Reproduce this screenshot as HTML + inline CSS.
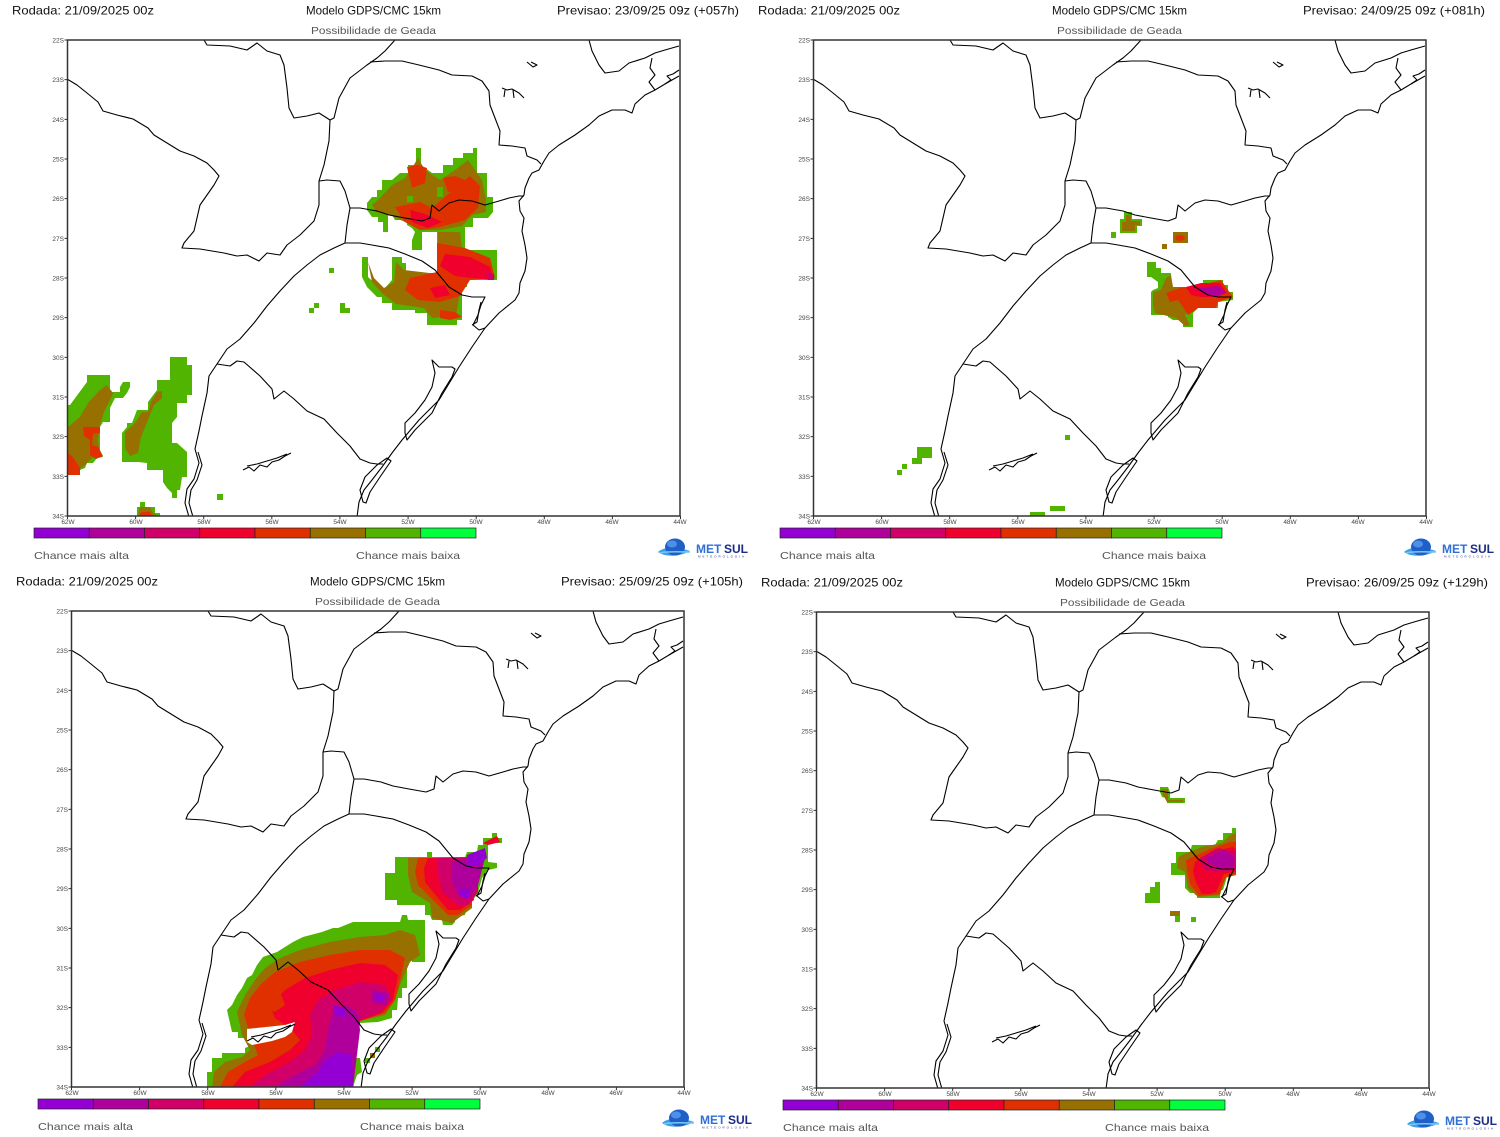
<!DOCTYPE html>
<html>
<head>
<meta charset="utf-8">
<style>
html,body{margin:0;padding:0;background:#fff;}
svg{display:block;}
.h{font-family:"Liberation Sans",sans-serif;font-size:12px;fill:#111;}
.s{font-family:"Liberation Sans",sans-serif;font-size:10.5px;fill:#555;}
.c{font-family:"Liberation Sans",sans-serif;font-size:10.5px;fill:#555;}
.t{font-family:"Liberation Sans",sans-serif;font-size:6.5px;fill:#444;}
.lg1{font-family:"Liberation Sans",sans-serif;font-size:12px;font-weight:bold;fill:#2f6fd6;}
.lg2{font-family:"Liberation Sans",sans-serif;font-size:12px;font-weight:bold;fill:#1b2c86;}
.lg3{font-family:"Liberation Sans",sans-serif;font-size:3px;fill:#1b2c86;}
</style>
</head>
<body>
<svg width="1500" height="1137" viewBox="0 0 1500 1137" xmlns="http://www.w3.org/2000/svg">
<defs>
<clipPath id="fr"><rect x="0" y="0" width="613" height="476"/></clipPath>
<g id="map" clip-path="url(#fr)" fill="none" stroke="#000" stroke-width="1.1" stroke-linejoin="round">
<path d="M0,39 L10,45 L20,53 L31,62 L36,71 L50,75 L66,79 L81,88 L87,95 L100,103 L113,111 L127,116 L140,123 L147,130 L152,136 L147,145 L140,155 L133,165 L130,178 L127,191 L117,203 L115,208 L133,209 L157,213 L170,216 L180,215 L192,221 L200,213 L213,215 L220,205 L233,195 L247,181 L252,165 L252,141 L257,125 L262,101 L263,80"/>
<path d="M263,80 L252,73 L240,76 L227,78 L222,68 L220,48 L217,25 L213,15 L200,11 L190,3 L180,10 L163,6 L140,5 L137,0"/>
<path d="M263,80 L267,78 L272,58 L283,38 L300,25 L310,18 L318,11 L328,0"/>
<path d="M303,22 L318,21 L335,21 L352,25 L372,30 L385,35 L405,36 L415,41 L422,51 L423,65 L428,78 L433,91 L432,105 L445,106 L458,108 L460,116 L470,120 L474,124"/>
<path d="M252,141 L260,140 L273,141 L278,151 L283,168 L293,168 L310,171 L322,175 L338,178 L355,181 L363,178 L365,165 L372,171 L382,163 L392,160 L405,161 L418,165 L432,161 L442,158 L452,156 L457,156"/>
<path d="M283,168 L280,185 L278,203"/>
<path d="M278,203 L293,203 L305,205 L322,208 L338,214 L355,221 L368,230 L382,247 L395,255 L405,257 L418,257 L414,265 L411,275 L406,285 L412,290 L418,288"/>
<path d="M278,203 L267,208 L253,215 L240,225 L227,236 L213,251 L200,266 L187,283 L173,299 L160,309 L150,324 L142,336 L140,353 L135,376 L132,391 L128,409 L132,423 L127,439 L120,449 L118,463 L122,477"/>
<path d="M131,412 L135,425 L130,440 L124,450 L122,463 L126,477"/>
<path d="M150,324 L163,326 L170,321 L177,322 L193,336 L205,349 L207,359 L217,351 L227,359 L240,371 L257,379 L270,393 L283,406 L293,419 L303,423 L310,424 L316,424"/>
<path d="M612,36 L598,44 L588,50 L578,55 L568,64 L565,73 L558,70 L545,70 L532,76 L522,85 L508,95 L492,105 L482,113 L477,121 L472,130 L465,133 L462,138 L458,148 L457,155 L452,161 L453,171 L457,178 L455,191 L458,205 L460,218 L458,231 L453,243 L452,253 L448,260 L432,273 L418,288 L405,307 L392,327 L372,360 L352,380 L335,400 L325,413 L315,427 L305,440 L297,450 L292,462 L290,477"/>
<path d="M522,0 L525,11 L532,25 L538,33 L552,31 L562,23 L578,18 L588,13 L598,10 L612,6"/>
<path d="M585,18 L583,28 L588,35 L582,42 L588,50 M598,44 L604,40 L600,36 L606,34 L612,30"/>
<path d="M338,393 L338,383 L348,373 L358,360 L365,347 L368,333 L365,320 L372,327 L385,327 L388,329 L385,337 L375,353 L365,373 L348,390 L340,400 Z"/>
<path d="M296,462 L293,450 L298,437 L310,425 L320,418 L324,421 L313,437 L303,452 L299,463 Z"/>
<path d="M176,430 L182,427 L187,431 L193,425 L200,427 L205,422 L212,420 L218,416 L224,413 M180,426 L190,424 L200,421 L210,418 L220,414"/>
<path d="M460,22 L466,27 L470,25 L464,22 M435,48 L440,50 L445,49 L452,53 L457,58 M438,50 L437,57 M446,50 L447,58"/>
<path d="M405,285 L410,282 L412,270 L414,262" />
</g>
<g id="tk" stroke="#333" stroke-width="1">
<path d="M0,0 h-3 M0,39.67 h-3 M0,79.33 h-3 M0,119 h-3 M0,158.67 h-3 M0,198.33 h-3 M0,238 h-3 M0,277.67 h-3 M0,317.33 h-3 M0,357 h-3 M0,396.67 h-3 M0,436.33 h-3 M0,476 h-3 M0,476 v3 M68.1,476 v3 M136.2,476 v3 M204.3,476 v3 M272.4,476 v3 M340.6,476 v3 M408.7,476 v3 M476.8,476 v3 M544.9,476 v3 M613,476 v3"/>
</g>
</defs>
<rect width="1500" height="1137" fill="#fff"/>

<!-- ================= PANEL 1 DATA ================= -->
<g>
<polygon fill="#50b400" points="416,148 421,148 421,165 432,173 443,173 443,165 453,165 453,158 463,158 463,153 473,153 473,148 477,148 477,173 487,173 487,197 493,197 493,212 488,218 473,218 473,227 465,227 465,250 497,250 497,280 467,280 467,287 462,287 462,320 457,320 457,325 427,325 427,313 415,313 415,310 392,310 392,303 382,303 382,297 377,297 367,287 362,277 362,257 368,257 368,277 380,288 385,288 392,280 392,257 402,257 402,263 406,263 406,273 440,273 440,257 437,255 437,232 422,232 422,250 412,250 412,240 415,232 412,228 407,225 407,220 395,220 392,215 388,215 388,232 383,232 383,222 378,222 378,217 372,217 367,210 367,203 372,197 377,197 377,190 382,190 382,180 392,180 400,173 408,173 408,165 416,165"/>
<polygon fill="#977000" points="380,198 392,185 405,178 412,168 418,158 425,170 440,180 455,170 468,160 475,170 482,180 486,200 486,212 472,215 462,226 440,230 420,230 405,222 390,215 376,212 372,205"/>
<polygon fill="#977000" points="438,232 460,232 462,252 490,258 494,276 465,278 460,292 456,316 432,318 424,308 396,304 383,294 372,282 368,262 374,278 384,288 394,282 396,262 404,270 438,274"/>
<rect x="407" y="196" width="6" height="6" fill="#50b400"/>
<rect x="437" y="187" width="6" height="10" fill="#50b400"/>
<polygon fill="#e03000" points="407,167 418,165 427,168 425,183 412,188"/>
<polygon fill="#e03000" points="395,207 420,202 432,208 446,196 458,186 470,176 480,186 478,208 465,220 440,227 420,230 405,222"/>
<polygon fill="#e03000" points="443,178 455,176 470,182 465,192 448,192"/>
<polygon fill="#e03000" points="437,243 465,248 490,258 495,278 470,280 460,296 440,302 418,300 405,290 410,278 437,272"/>
<polygon fill="#e03000" points="440,310 455,312 462,317 450,320 440,318"/>
<polygon fill="#f0002c" points="445,254 470,257 490,267 493,280 472,278 455,276 440,266"/>
<polygon fill="#f0002c" points="410,210 425,214 442,222 428,228 412,222"/>
<polygon fill="#f0002c" points="430,288 445,285 450,295 435,298"/>
<polygon fill="#d00068" points="486,272 494,274 494,280 488,280"/>
<!-- left blobs -->
<polygon fill="#50b400" points="68,405 70,405 87,382 87,375 110,375 110,392 120,392 120,387 123,382 130,382 130,387 127,393 123,398 115,398 110,408 110,422 103,422 100,427 100,450 103,457 97,458 93,463 87,463 85,468 80,470 80,475 68,475"/>
<polygon fill="#977000" points="68,427 80,417 88,403 100,390 107,385 113,393 110,400 104,412 100,425 98,440 100,455 92,458 85,465 78,470 68,470"/>
<polygon fill="#e03000" points="68,453 73,457 80,468 80,475 68,475"/>
<polygon fill="#e03000" points="83,427 100,427 100,433 93,434 92,445 98,447 103,456 96,459 90,455 90,440 84,436"/>
<polygon fill="#50b400" points="170,357 187,357 187,365 192,365 192,395 187,395 187,403 177,403 177,417 172,423 172,443 177,443 187,452 187,477 182,477 180,490 177,490 177,498 172,498 172,493 167,488 163,482 163,470 147,470 147,463 138,462 122,462 122,433 127,427 127,423 132,423 137,410 148,410 148,402 157,390 157,380 170,380"/>
<polygon fill="#977000" points="125,432 134,424 142,412 148,412 151,402 157,392 162,391 162,398 154,405 148,420 141,437 138,453 130,456 125,448"/>
<polygon fill="#50b400" points="140,502 145,502 145,507 155,507 155,513 160,513 160,516 137,516 137,507 140,507"/>
<polygon fill="#977000" points="140,507 150,507 153,513 158,516 138,516"/>
<polygon fill="#e03000" points="141,512 150,512 152,516 140,516"/>
<g fill="#50b400">
<rect x="217" y="494" width="6" height="6"/>
<rect x="329" y="268" width="5" height="5"/>
<rect x="314" y="303" width="5" height="5"/>
<rect x="309" y="308" width="5" height="5"/>
<rect x="340" y="303" width="5" height="10"/>
<rect x="345" y="308" width="5" height="5"/>
</g>
</g>

<!-- ================= PANEL 2 DATA ================= -->
<g>
<polygon fill="#50b400" points="1124,212 1132,212 1132,219 1142,219 1142,226 1137,226 1137,233 1120,233 1120,219 1124,219"/>
<polygon fill="#977000" points="1126,215 1131,215 1131,221 1140,221 1140,225 1135,225 1135,231 1122,231 1122,222 1126,222"/>
<rect x="1173" y="232" width="15" height="11" fill="#977000"/>
<ellipse cx="1180" cy="238" rx="5" ry="3" fill="#e03000"/>
<rect x="1162" y="244" width="5" height="5" fill="#977000"/>
<polygon fill="#50b400" points="1147,262 1156,262 1156,268 1161,268 1161,273 1171,273 1171,287 1203,287 1203,280 1223,280 1223,285 1228,285 1228,292 1233,292 1233,300 1218,302 1218,308 1198,308 1193,313 1193,327 1183,327 1183,320 1173,320 1168,317 1168,315 1151,315 1151,292 1153,290 1158,288 1158,282 1151,277 1147,277"/>
<polygon fill="#977000" points="1153,292 1161,290 1166,278 1171,275 1173,287 1185,287 1191,293 1195,303 1191,310 1185,315 1190,325 1185,326 1176,318 1155,313 1153,305"/>
<polygon fill="#e03000" points="1166,293 1180,288 1205,284 1221,280 1228,290 1233,297 1218,302 1216,308 1198,308 1188,315 1183,307 1178,300 1170,302"/>
<polygon fill="#f0002c" points="1186,287 1201,283 1220,283 1226,292 1218,297 1201,297 1191,295"/>
<polygon fill="#b0009c" points="1198,288 1218,286 1227,293 1215,296 1203,293"/>
<g fill="#50b400">
<rect x="917" y="447" width="15" height="11"/>
<rect x="912" y="458" width="10" height="6"/>
<rect x="902" y="464" width="5" height="5"/>
<rect x="897" y="470" width="5" height="5"/>
<rect x="1065" y="435" width="5" height="5"/>
<rect x="1030" y="512" width="15" height="4"/>
<rect x="1050" y="506" width="15" height="5"/>
<rect x="1111" y="232" width="5" height="6"/>
</g>
</g>

<!-- ================= PANEL 3 DATA ================= -->
<g>
<polygon fill="#50b400" points="395,857 427,857 427,852 432,852 432,857 465,857 467,852 477,852 478,845 483,845 483,838 492,838 492,833 497,833 497,838 502,838 502,843 488,843 488,862 497,863 497,868 488,870 482,878 478,893 473,900 467,905 465,915 455,917 455,922 452,925 443,925 442,920 432,920 430,915 425,915 425,905 397,905 397,900 385,900 385,873 395,873"/>
<polygon fill="#977000" points="408,858 467,857 472,870 472,908 452,923 432,918 430,903 412,892 408,875"/>
<polygon fill="#e03000" points="418,858 468,858 472,905 458,915 448,915 435,902 418,885 415,872"/>
<polygon fill="#f0002c" points="428,858 470,858 474,900 460,910 448,910 438,898 425,882 424,868"/>
<polygon fill="#d00068" points="438,858 478,857 478,892 468,905 458,905 442,892 438,875"/>
<polygon fill="#b0009c" points="452,862 478,855 485,858 478,885 468,900 458,895 452,882"/>
<polygon fill="#9400d4" points="467,855 485,848 487,858 478,865 468,865"/>
<polygon fill="#9400d4" points="458,890 468,888 470,897 462,898"/>
<polygon fill="#f0002c" points="483,843 497,836 500,842 488,845"/>
<polygon fill="#50b400" points="207,1087 207,1072 212,1072 212,1058 222,1058 222,1053 245,1053 245,1048 252,1045 248,1038 238,1038 238,1032 232,1032 227,1010 232,1005 237,995 242,988 247,978 252,975 257,965 263,957 277,952 285,947 293,942 303,937 322,932 333,928 338,928 353,922 400,922 402,915 407,915 408,920 425,920 425,962 412,962 412,957 402,957 402,968 407,968 407,988 402,988 402,998 398,998 397,1010 392,1010 392,1018 378,1022 360,1023 355,1023 355,1028 358,1032 355,1038 355,1058 360,1058 362,1072 357,1075 353,1087"/>
<polygon fill="#977000" points="212,1087 214,1072 225,1062 242,1057 250,1050 242,1035 237,1012 245,995 255,980 265,968 280,958 300,950 330,942 360,937 385,935 400,930 415,935 420,955 410,962 400,985 395,1000 385,1015 360,1021 355,1025 353,1087"/>
<polygon fill="#e03000" points="220,1087 228,1072 245,1062 258,1055 252,1040 244,1015 250,998 262,983 275,972 300,962 330,955 360,950 390,950 405,958 400,980 395,1000 385,1013 360,1021 353,1087"/>
<polygon fill="#f0002c" points="232,1087 245,1072 270,1062 290,1050 300,1040 290,1028 275,1018 270,1005 285,990 305,978 330,970 360,963 385,965 398,975 393,1000 382,1013 360,1021 353,1087"/>
<polygon fill="#e03000" points="265,995 280,992 285,1005 275,1012 266,1008"/>
<polygon fill="#d00068" points="250,1087 265,1075 290,1062 305,1050 312,1035 310,1015 318,1000 335,990 360,982 385,985 392,1000 380,1012 360,1020 353,1087"/>
<polygon fill="#b0009c" points="275,1087 295,1075 315,1065 325,1050 328,1030 333,1012 345,1005 358,1012 360,1030 353,1087"/>
<polygon fill="#b0009c" points="372,990 390,993 386,1005 372,1003"/>
<polygon fill="#9400d4" points="300,1087 310,1078 318,1072 325,1060 338,1052 352,1055 353,1087"/>
<polygon fill="#9400d4" points="333,1005 345,1008 345,1018 335,1015"/>
<polygon fill="#9400d4" points="376,993 385,996 382,1002 376,1000"/>
<polygon fill="#fff" points="247,1029 285,1025 295,1022 292,1032 285,1037 272,1041 252,1045 247,1042"/>
<rect x="365" y="1058" width="5" height="5" fill="#50b400"/>
<rect x="370" y="1053" width="5" height="5" fill="#977000"/>
<rect x="375" y="1047" width="5" height="5" fill="#50b400"/>
</g>

<!-- ================= PANEL 4 DATA ================= -->
<g>
<polygon fill="#50b400" points="1160,787 1168,787 1170,792 1170,798 1185,798 1185,803 1167,803 1167,798 1162,797 1160,792"/>
<polygon fill="#977000" points="1162,789 1168,789 1168,800 1183,800 1183,802 1167,802 1163,795"/>
<polygon fill="#50b400" points="1232,828 1236,828 1236,875 1227,877 1223,890 1220,890 1220,898 1197,898 1197,893 1190,893 1185,888 1185,875 1171,875 1171,863 1176,863 1176,852 1190,852 1192,845 1215,845 1218,840 1223,840 1223,833 1232,833"/>
<polygon fill="#977000" points="1182,855 1202,847 1222,843 1230,835 1236,833 1236,875 1225,878 1220,895 1198,897 1188,888 1185,872 1177,868 1178,858"/>
<polygon fill="#e03000" points="1186,860 1210,849 1230,842 1236,842 1236,874 1226,877 1219,894 1199,896 1190,884 1187,872"/>
<polygon fill="#f0002c" points="1195,862 1214,851 1233,847 1236,850 1236,872 1224,874 1216,892 1202,894 1196,882 1193,872"/>
<polygon fill="#d00068" points="1200,858 1218,848 1235,852 1235,870 1218,872 1205,870"/>
<polygon fill="#b0009c" points="1207,857 1225,850 1235,858 1233,867 1218,867 1208,863"/>
<ellipse cx="1208" cy="888" rx="7" ry="6" fill="#f0002c"/>
<polygon fill="#50b400" points="1155,882 1160,882 1160,903 1145,903 1145,893 1150,893 1150,887 1155,887"/>
<rect x="1170" y="911" width="10" height="5" fill="#977000"/>
<rect x="1175" y="916" width="5" height="6" fill="#50b400"/>
<rect x="1191" y="917" width="5" height="5" fill="#50b400"/>
</g>

<!-- ================= MAPS ================= -->
<use href="#map" transform="translate(67,40)"/>
<use href="#map" transform="translate(813,40)"/>
<use href="#map" transform="translate(71,611)"/>
<use href="#map" transform="translate(816,612)"/>
<use href="#tk" transform="translate(67.5,40)"/>
<use href="#tk" transform="translate(813.5,40)"/>
<use href="#tk" transform="translate(71.5,611)"/>
<use href="#tk" transform="translate(816.5,612)"/>

<!-- ================= PANEL 1 CHROME ================= -->
<g>
<rect x="67.5" y="40" width="612.5" height="476" fill="none" stroke="#333" stroke-width="1.5"/>
<text class="h" x="12" y="14.5" textLength="142" lengthAdjust="spacingAndGlyphs">Rodada: 21/09/2025 00z</text>
<text class="h" x="306" y="14.5" textLength="135" lengthAdjust="spacingAndGlyphs">Modelo GDPS/CMC 15km</text>
<text class="h" x="557" y="14.5" textLength="182" lengthAdjust="spacingAndGlyphs">Previsao: 23/09/25 09z (+057h)</text>
<text class="s" x="311" y="34" textLength="125" lengthAdjust="spacingAndGlyphs">Possibilidade de Geada</text>
<g class="t" text-anchor="end">
<text x="64" y="42.5">22S</text><text x="64" y="82.2">23S</text><text x="64" y="121.8">24S</text><text x="64" y="161.5">25S</text><text x="64" y="201.2">26S</text><text x="64" y="240.8">27S</text><text x="64" y="280.5">28S</text><text x="64" y="320.2">29S</text><text x="64" y="359.8">30S</text><text x="64" y="399.5">31S</text><text x="64" y="439.2">32S</text><text x="64" y="478.8">33S</text><text x="64" y="518.5">34S</text>
</g>
<g class="t" text-anchor="middle">
<text x="68" y="524">62W</text><text x="136" y="524">60W</text><text x="204" y="524">58W</text><text x="272" y="524">56W</text><text x="340" y="524">54W</text><text x="408" y="524">52W</text><text x="476" y="524">50W</text><text x="544" y="524">48W</text><text x="612" y="524">46W</text><text x="680" y="524">44W</text>
</g>
<g stroke="#222" stroke-width="0.7">
<rect x="34" y="528" width="55.25" height="10" fill="#9400d4"/>
<rect x="89.25" y="528" width="55.25" height="10" fill="#b0009c"/>
<rect x="144.5" y="528" width="55.25" height="10" fill="#d00068"/>
<rect x="199.75" y="528" width="55.25" height="10" fill="#f0002c"/>
<rect x="255" y="528" width="55.25" height="10" fill="#e03000"/>
<rect x="310.25" y="528" width="55.25" height="10" fill="#977000"/>
<rect x="365.5" y="528" width="55.25" height="10" fill="#50b400"/>
<rect x="420.75" y="528" width="55.25" height="10" fill="#00ff3c"/>
</g>
<text class="c" x="34" y="559" textLength="95" lengthAdjust="spacingAndGlyphs">Chance mais alta</text>
<text class="c" x="356" y="559" textLength="104" lengthAdjust="spacingAndGlyphs">Chance mais baixa</text>
<g>
<path d="M658,552 C664,546 678,547 690,551 C682,556 666,558 658,552 Z" fill="#3da0ea"/>
<ellipse cx="675" cy="547" rx="10" ry="8.5" fill="#1f5fc8"/>
<ellipse cx="672" cy="544" rx="5" ry="3.5" fill="#4f8fe6"/>
<path d="M660,553 C668,551 680,552 690,552" stroke="#7cc6f4" stroke-width="1.5" fill="none"/>
<text class="lg1" x="696" y="553">MET</text><text class="lg2" x="724" y="553">SUL</text>
<text class="lg3" x="698" y="557.5" textLength="46">METEOROLOGIA</text>
</g>
</g>

<!-- ================= PANEL 2 CHROME ================= -->
<g transform="translate(746,0)">
<rect x="67.5" y="40" width="612.5" height="476" fill="none" stroke="#333" stroke-width="1.5"/>
<text class="h" x="12" y="14.5" textLength="142" lengthAdjust="spacingAndGlyphs">Rodada: 21/09/2025 00z</text>
<text class="h" x="306" y="14.5" textLength="135" lengthAdjust="spacingAndGlyphs">Modelo GDPS/CMC 15km</text>
<text class="h" x="557" y="14.5" textLength="182" lengthAdjust="spacingAndGlyphs">Previsao: 24/09/25 09z (+081h)</text>
<text class="s" x="311" y="34" textLength="125" lengthAdjust="spacingAndGlyphs">Possibilidade de Geada</text>
<g class="t" text-anchor="end">
<text x="64" y="42.5">22S</text><text x="64" y="82.2">23S</text><text x="64" y="121.8">24S</text><text x="64" y="161.5">25S</text><text x="64" y="201.2">26S</text><text x="64" y="240.8">27S</text><text x="64" y="280.5">28S</text><text x="64" y="320.2">29S</text><text x="64" y="359.8">30S</text><text x="64" y="399.5">31S</text><text x="64" y="439.2">32S</text><text x="64" y="478.8">33S</text><text x="64" y="518.5">34S</text>
</g>
<g class="t" text-anchor="middle">
<text x="68" y="524">62W</text><text x="136" y="524">60W</text><text x="204" y="524">58W</text><text x="272" y="524">56W</text><text x="340" y="524">54W</text><text x="408" y="524">52W</text><text x="476" y="524">50W</text><text x="544" y="524">48W</text><text x="612" y="524">46W</text><text x="680" y="524">44W</text>
</g>
<g stroke="#222" stroke-width="0.7">
<rect x="34" y="528" width="55.25" height="10" fill="#9400d4"/>
<rect x="89.25" y="528" width="55.25" height="10" fill="#b0009c"/>
<rect x="144.5" y="528" width="55.25" height="10" fill="#d00068"/>
<rect x="199.75" y="528" width="55.25" height="10" fill="#f0002c"/>
<rect x="255" y="528" width="55.25" height="10" fill="#e03000"/>
<rect x="310.25" y="528" width="55.25" height="10" fill="#977000"/>
<rect x="365.5" y="528" width="55.25" height="10" fill="#50b400"/>
<rect x="420.75" y="528" width="55.25" height="10" fill="#00ff3c"/>
</g>
<text class="c" x="34" y="559" textLength="95" lengthAdjust="spacingAndGlyphs">Chance mais alta</text>
<text class="c" x="356" y="559" textLength="104" lengthAdjust="spacingAndGlyphs">Chance mais baixa</text>
<g>
<path d="M658,552 C664,546 678,547 690,551 C682,556 666,558 658,552 Z" fill="#3da0ea"/>
<ellipse cx="675" cy="547" rx="10" ry="8.5" fill="#1f5fc8"/>
<ellipse cx="672" cy="544" rx="5" ry="3.5" fill="#4f8fe6"/>
<path d="M660,553 C668,551 680,552 690,552" stroke="#7cc6f4" stroke-width="1.5" fill="none"/>
<text class="lg1" x="696" y="553">MET</text><text class="lg2" x="724" y="553">SUL</text>
<text class="lg3" x="698" y="557.5" textLength="46">METEOROLOGIA</text>
</g>
</g>

<!-- ================= PANEL 3 CHROME ================= -->
<g transform="translate(4,571)">
<rect x="67.5" y="40" width="612.5" height="476" fill="none" stroke="#333" stroke-width="1.5"/>
<text class="h" x="12" y="14.5" textLength="142" lengthAdjust="spacingAndGlyphs">Rodada: 21/09/2025 00z</text>
<text class="h" x="306" y="14.5" textLength="135" lengthAdjust="spacingAndGlyphs">Modelo GDPS/CMC 15km</text>
<text class="h" x="557" y="14.5" textLength="182" lengthAdjust="spacingAndGlyphs">Previsao: 25/09/25 09z (+105h)</text>
<text class="s" x="311" y="34" textLength="125" lengthAdjust="spacingAndGlyphs">Possibilidade de Geada</text>
<g class="t" text-anchor="end">
<text x="64" y="42.5">22S</text><text x="64" y="82.2">23S</text><text x="64" y="121.8">24S</text><text x="64" y="161.5">25S</text><text x="64" y="201.2">26S</text><text x="64" y="240.8">27S</text><text x="64" y="280.5">28S</text><text x="64" y="320.2">29S</text><text x="64" y="359.8">30S</text><text x="64" y="399.5">31S</text><text x="64" y="439.2">32S</text><text x="64" y="478.8">33S</text><text x="64" y="518.5">34S</text>
</g>
<g class="t" text-anchor="middle">
<text x="68" y="524">62W</text><text x="136" y="524">60W</text><text x="204" y="524">58W</text><text x="272" y="524">56W</text><text x="340" y="524">54W</text><text x="408" y="524">52W</text><text x="476" y="524">50W</text><text x="544" y="524">48W</text><text x="612" y="524">46W</text><text x="680" y="524">44W</text>
</g>
<g stroke="#222" stroke-width="0.7">
<rect x="34" y="528" width="55.25" height="10" fill="#9400d4"/>
<rect x="89.25" y="528" width="55.25" height="10" fill="#b0009c"/>
<rect x="144.5" y="528" width="55.25" height="10" fill="#d00068"/>
<rect x="199.75" y="528" width="55.25" height="10" fill="#f0002c"/>
<rect x="255" y="528" width="55.25" height="10" fill="#e03000"/>
<rect x="310.25" y="528" width="55.25" height="10" fill="#977000"/>
<rect x="365.5" y="528" width="55.25" height="10" fill="#50b400"/>
<rect x="420.75" y="528" width="55.25" height="10" fill="#00ff3c"/>
</g>
<text class="c" x="34" y="559" textLength="95" lengthAdjust="spacingAndGlyphs">Chance mais alta</text>
<text class="c" x="356" y="559" textLength="104" lengthAdjust="spacingAndGlyphs">Chance mais baixa</text>
<g>
<path d="M658,552 C664,546 678,547 690,551 C682,556 666,558 658,552 Z" fill="#3da0ea"/>
<ellipse cx="675" cy="547" rx="10" ry="8.5" fill="#1f5fc8"/>
<ellipse cx="672" cy="544" rx="5" ry="3.5" fill="#4f8fe6"/>
<path d="M660,553 C668,551 680,552 690,552" stroke="#7cc6f4" stroke-width="1.5" fill="none"/>
<text class="lg1" x="696" y="553">MET</text><text class="lg2" x="724" y="553">SUL</text>
<text class="lg3" x="698" y="557.5" textLength="46">METEOROLOGIA</text>
</g>
</g>

<!-- ================= PANEL 4 CHROME ================= -->
<g transform="translate(749,572)">
<rect x="67.5" y="40" width="612.5" height="476" fill="none" stroke="#333" stroke-width="1.5"/>
<text class="h" x="12" y="14.5" textLength="142" lengthAdjust="spacingAndGlyphs">Rodada: 21/09/2025 00z</text>
<text class="h" x="306" y="14.5" textLength="135" lengthAdjust="spacingAndGlyphs">Modelo GDPS/CMC 15km</text>
<text class="h" x="557" y="14.5" textLength="182" lengthAdjust="spacingAndGlyphs">Previsao: 26/09/25 09z (+129h)</text>
<text class="s" x="311" y="34" textLength="125" lengthAdjust="spacingAndGlyphs">Possibilidade de Geada</text>
<g class="t" text-anchor="end">
<text x="64" y="42.5">22S</text><text x="64" y="82.2">23S</text><text x="64" y="121.8">24S</text><text x="64" y="161.5">25S</text><text x="64" y="201.2">26S</text><text x="64" y="240.8">27S</text><text x="64" y="280.5">28S</text><text x="64" y="320.2">29S</text><text x="64" y="359.8">30S</text><text x="64" y="399.5">31S</text><text x="64" y="439.2">32S</text><text x="64" y="478.8">33S</text><text x="64" y="518.5">34S</text>
</g>
<g class="t" text-anchor="middle">
<text x="68" y="524">62W</text><text x="136" y="524">60W</text><text x="204" y="524">58W</text><text x="272" y="524">56W</text><text x="340" y="524">54W</text><text x="408" y="524">52W</text><text x="476" y="524">50W</text><text x="544" y="524">48W</text><text x="612" y="524">46W</text><text x="680" y="524">44W</text>
</g>
<g stroke="#222" stroke-width="0.7">
<rect x="34" y="528" width="55.25" height="10" fill="#9400d4"/>
<rect x="89.25" y="528" width="55.25" height="10" fill="#b0009c"/>
<rect x="144.5" y="528" width="55.25" height="10" fill="#d00068"/>
<rect x="199.75" y="528" width="55.25" height="10" fill="#f0002c"/>
<rect x="255" y="528" width="55.25" height="10" fill="#e03000"/>
<rect x="310.25" y="528" width="55.25" height="10" fill="#977000"/>
<rect x="365.5" y="528" width="55.25" height="10" fill="#50b400"/>
<rect x="420.75" y="528" width="55.25" height="10" fill="#00ff3c"/>
</g>
<text class="c" x="34" y="559" textLength="95" lengthAdjust="spacingAndGlyphs">Chance mais alta</text>
<text class="c" x="356" y="559" textLength="104" lengthAdjust="spacingAndGlyphs">Chance mais baixa</text>
<g>
<path d="M658,552 C664,546 678,547 690,551 C682,556 666,558 658,552 Z" fill="#3da0ea"/>
<ellipse cx="675" cy="547" rx="10" ry="8.5" fill="#1f5fc8"/>
<ellipse cx="672" cy="544" rx="5" ry="3.5" fill="#4f8fe6"/>
<path d="M660,553 C668,551 680,552 690,552" stroke="#7cc6f4" stroke-width="1.5" fill="none"/>
<text class="lg1" x="696" y="553">MET</text><text class="lg2" x="724" y="553">SUL</text>
<text class="lg3" x="698" y="557.5" textLength="46">METEOROLOGIA</text>
</g>
</g>
</svg>
</body>
</html>
